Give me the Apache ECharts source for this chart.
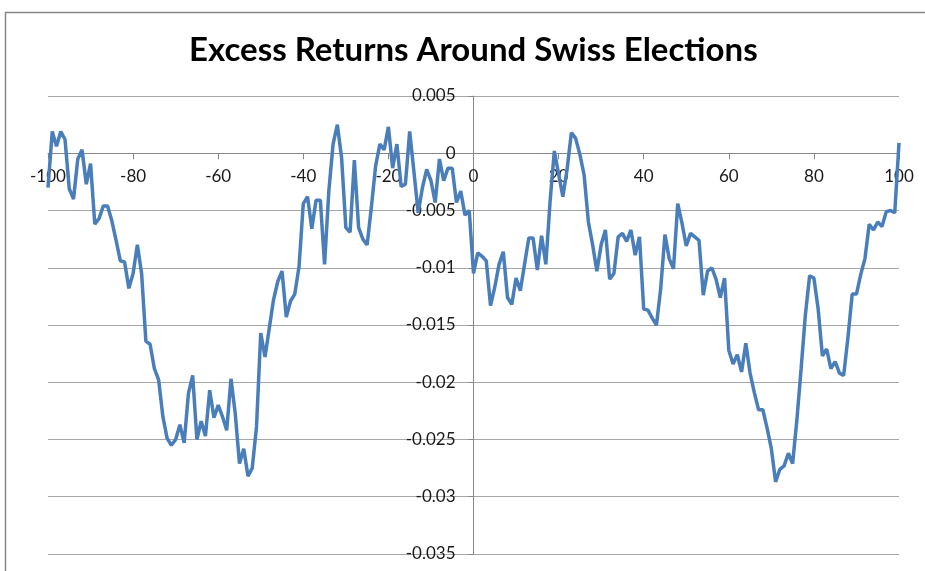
<!DOCTYPE html>
<html>
<head>
<meta charset="utf-8">
<title>Excess Returns Around Swiss Elections</title>
<script src="https://cdn.jsdelivr.net/npm/echarts@6/dist/echarts.min.js"></script>
<style>
  html, body { margin: 0; padding: 0; background: #fff; }
  #chart { width: 925px; height: 571px; }
</style>
</head>
<body>
<div id="chart"></div>
<script>
// days relative to the election (-100 .. 100)
var firstDay = -100;
var lastDay = 100;

// excess return per day, from day -100 to day 100
var excessReturns = [
  -0.0030, 0.0019, 0.0006, 0.0019, 0.0012, -0.0031, -0.0040, -0.0005, 0.0003, -0.0027,   // -100..-91
  -0.0009, -0.0062, -0.0057, -0.0046, -0.0046, -0.0059, -0.0076, -0.0094, -0.0095, -0.0118, // -90..-81
  -0.0105, -0.0080, -0.0105, -0.0164, -0.0167, -0.0188, -0.0198, -0.0230, -0.0249, -0.0255, // -80..-71
  -0.0250, -0.0237, -0.0253, -0.0210, -0.0194, -0.0250, -0.0234, -0.0247, -0.0207, -0.0231, // -70..-61
  -0.0220, -0.0230, -0.0242, -0.0197, -0.0227, -0.0271, -0.0258, -0.0282, -0.0275, -0.0239, // -60..-51
  -0.0157, -0.0178, -0.0153, -0.0128, -0.0112, -0.0103, -0.0143, -0.0129, -0.0123, -0.0099, // -50..-41
  -0.0044, -0.0038, -0.0066, -0.0041, -0.0041, -0.0097, -0.0033, 0.0008, 0.0025, -0.0004,   // -40..-31
  -0.0065, -0.0069, -0.0006, -0.0065, -0.0075, -0.0080, -0.0047, -0.0011, 0.0008, 0.0003,   // -30..-21
  0.0023, -0.0013, 0.0008, -0.0029, -0.0027, 0.0019, -0.0016, -0.0052, -0.0030, -0.0014,    // -20..-11
  -0.0024, -0.0043, -0.0005, -0.0024, -0.0013, -0.0013, -0.0043, -0.0033, -0.0054, -0.0050, // -10..-1
  -0.0105,                                                                                  // 0
  -0.0087, -0.0090, -0.0094, -0.0133, -0.0117, -0.0097, -0.0086, -0.0126, -0.0132, -0.0109, // 1..10
  -0.0120, -0.0097, -0.0074, -0.0074, -0.0102, -0.0072, -0.0097, -0.0042, 0.0002, -0.0018,  // 11..20
  -0.0038, -0.0014, 0.0018, 0.0013, -0.0001, -0.0019, -0.0060, -0.0080, -0.0103, -0.0080,   // 21..30
  -0.0067, -0.0110, -0.0105, -0.0073, -0.0070, -0.0077, -0.0067, -0.0089, -0.0073, -0.0136, // 31..40
  -0.0137, -0.0144, -0.0150, -0.0118, -0.0071, -0.0092, -0.0101, -0.0044, -0.0061, -0.0081, // 41..50
  -0.0070, -0.0073, -0.0076, -0.0124, -0.0103, -0.0100, -0.0110, -0.0126, -0.0109, -0.0172, // 51..60
  -0.0184, -0.0176, -0.0191, -0.0166, -0.0192, -0.0209, -0.0224, -0.0224, -0.0240, -0.0258, // 61..70
  -0.0287, -0.0276, -0.0273, -0.0262, -0.0271, -0.0233, -0.0188, -0.0141, -0.0107, -0.0109, // 71..80
  -0.0136, -0.0177, -0.0171, -0.0188, -0.0182, -0.0192, -0.0194, -0.0161, -0.0123, -0.0123, // 81..90
  -0.0106, -0.0092, -0.0062, -0.0067, -0.0060, -0.0064, -0.0051, -0.0050, -0.0052, 0.0009   // 91..100
];

var chartTitle = 'Excess Returns Around Swiss Elections';
var yMin = -0.035, yMax = 0.005, yStep = 0.005;

var points = [];
for (var i = 0; i < excessReturns.length; i++) {
  points.push([firstDay + i, excessReturns[i]]);
}

// plot box, so the axes can be moved onto the zero lines
var gridLeft = 48, gridRight = 26, gridTop = 96, gridBottom = 17;
var plotW = 925 - gridLeft - gridRight;
var plotH = 571 - gridTop - gridBottom;
// y axis sits at day 0, x axis at return 0
var yAxisShift = -plotW * (0 - firstDay) / (lastDay - firstDay);
var xAxisShift = -plotH * (0 - yMin) / (yMax - yMin);

var axisGray = '#868686';
var labelFont = { color: '#1a1a1a', fontSize: 17, fontFamily: 'Lato' };

var chart = echarts.init(document.getElementById('chart'), null, { renderer: 'canvas' });
chart.setOption({
  animation: false,
  backgroundColor: '#fff',
  title: {
    text: chartTitle,
    left: 184,
    top: 29,
    textStyle: { fontFamily: 'Lato', fontWeight: 'bold', fontSize: 33, color: '#000' }
  },
  graphic: [{
    type: 'rect',
    z: -1,
    silent: true,
    shape: { x: 5.5, y: 12.5, width: 1000, height: 1000 },
    style: { fill: null, stroke: axisGray, lineWidth: 1.5 }
  }],
  grid: {
    left: gridLeft, right: gridRight, top: gridTop, bottom: gridBottom,
    outerBoundsMode: 'none', containLabel: false
  },
  xAxis: {
    type: 'value',
    position: 'bottom',
    offset: xAxisShift,
    min: firstDay,
    max: lastDay,
    interval: 20,
    axisLine: { onZero: false, lineStyle: { color: axisGray, width: 1 } },
    axisTick: { show: true, length: 6, lineStyle: { color: axisGray } },
    axisLabel: Object.assign({ margin: 15 }, labelFont),
    splitLine: { show: false }
  },
  yAxis: {
    type: 'value',
    position: 'left',
    offset: yAxisShift,
    min: yMin,
    max: yMax,
    interval: yStep,
    axisLine: { show: true, onZero: false, lineStyle: { color: axisGray, width: 1 } },
    axisTick: { show: true, length: 5, lineStyle: { color: axisGray } },
    axisLabel: Object.assign({
      margin: 18,
      formatter: function (v) { return String(parseFloat(v.toFixed(3))); }
    }, labelFont),
    splitLine: { show: true, lineStyle: { color: '#a6a6a6', width: 1 } }
  },
  series: [{
    type: 'line',
    data: points,
    showSymbol: false,
    lineStyle: { color: '#4a7ebb', width: 3.5 },
    itemStyle: { color: '#4a7ebb' }
  }]
});
</script>
</body>
</html>
